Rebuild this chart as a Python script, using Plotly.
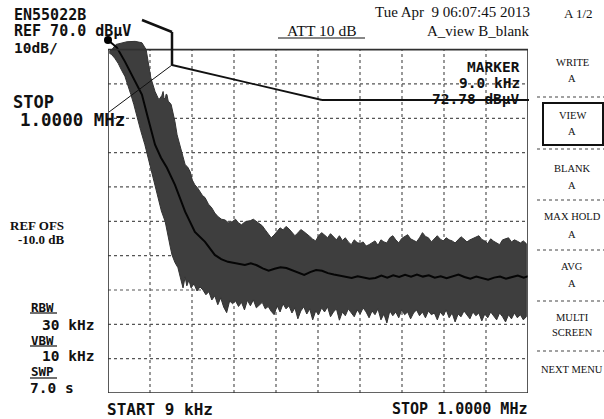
import plotly.graph_objects as go

# ---------------- data (kHz, dBuV) ----------------
upper_freq_khz = [12, 18, 28, 42, 54, 73, 89, 99, 103, 110, 120, 129, 136, 139, 141, 144, 146, 148, 151, 153,
                  158, 162, 167, 172, 176, 181, 186, 191, 197, 203, 208, 214, 220, 226, 232, 238, 246, 254, 261,
                  269, 277, 285, 293, 302, 310, 317, 324, 332,
                  338, 345, 352, 359, 366, 373, 380, 387, 394, 401, 408, 415, 422, 429, 436, 443, 450, 457, 464,
                  471, 478, 485, 492, 499, 506, 513, 520, 527, 534, 541, 548, 555, 562, 569, 576, 583, 590, 597,
                  604, 611, 618, 625, 632, 639, 646, 653, 660, 667, 674, 681, 688, 695, 702, 709, 716, 723, 730,
                  737, 744, 751, 758, 765, 772, 779, 786, 793, 800, 807, 814, 821, 828, 835, 842, 849, 856, 863,
                  870, 877, 884, 891, 898, 905, 912, 919, 926, 933, 940, 947, 954, 961, 968, 975, 982, 989, 996]
upper_level_dbuv = [69.5, 70.0, 71.5, 72.0, 72.3, 72.4, 72.0, 70.0, 66.5, 61.8, 57.8, 55.4, 56.6, 57.8, 56.0, 55.4,
                    57.0, 56.9, 55.0, 54.8, 54.0, 51.9, 49.0, 45.2, 43.5, 40.9, 38.5, 36.5, 35.8, 34.4, 32.0, 30.6,
                    29.8, 28.6, 27.5, 26.9, 25.0, 23.9, 22.4, 21.3, 20.6, 20.4, 19.6, 19.9, 20.6, 19.5, 19.0, 19.8,
                    19.9, 20.2, 20.6, 20.0, 19.5, 18.7, 17.5, 16.5, 15.2, 16.0, 17.2, 18.1, 17.5, 18.5, 17.8, 16.8,
                    15.8, 16.6, 17.6, 17.0, 16.4, 15.6, 14.8, 14.3, 15.8, 16.7, 16.0, 15.2, 16.4, 15.4, 14.6, 15.8,
                    14.4, 15.2, 14.0, 13.2, 14.6, 13.8, 13.5, 14.0, 12.8, 13.2, 13.8, 14.3, 13.0, 14.6, 14.0, 13.7,
                    15.2, 15.8, 14.6, 13.7, 15.0, 15.5, 16.1, 14.9, 14.4, 14.0, 15.2, 16.7, 15.6, 15.2, 14.0, 14.9,
                    15.8, 14.8, 14.3, 15.2, 14.6, 14.3, 13.7, 14.6, 15.5, 14.8, 14.0, 14.6, 15.0, 15.2, 15.8, 14.7,
                    14.3, 13.5, 14.9, 14.2, 13.8, 13.2, 14.6, 15.0, 15.2, 14.0, 14.6, 14.2, 13.7, 14.3, 13.5]

lower_freq_khz = [12, 18, 25, 33, 41, 49, 56, 63, 70, 77, 86, 96, 104, 113, 120, 127, 135, 144, 151, 156, 160,
                  167, 174, 180, 186, 191, 195, 200, 205, 212, 219, 226, 233, 240, 247, 254, 261, 268, 275, 282,
                  289, 296, 303, 310, 317, 324, 331,
                  338, 345, 352, 359, 366, 373, 380, 387, 394, 401, 408, 415, 422, 429, 436, 443, 450, 457, 464,
                  471, 478, 485, 492, 499, 506, 513, 520, 527, 534, 541, 548, 555, 562, 569, 576, 583, 590, 597,
                  604, 611, 618, 625, 632, 639, 646, 653, 660, 667, 674, 681, 688, 695, 702, 709, 716, 723, 730,
                  737, 744, 751, 758, 765, 772, 779, 786, 793, 800, 807, 814, 821, 828, 835, 842, 849, 856, 863,
                  870, 877, 884, 891, 898, 905, 912, 919, 926, 933, 940, 947, 954, 961, 968, 975, 982, 989, 996]
lower_level_dbuv = [69.0, 68.5, 67.5, 66.0, 64.0, 62.2, 59.5, 56.9, 54.0, 51.1, 46.5, 42.3, 38.5, 34.4, 30.5, 26.9,
                    23.0, 19.9, 15.2, 12.5, 10.2, 8.0, 6.5, 3.5, 0.6, 3.8, 1.2, 2.9, 0.6, 1.8, -0.3, 0.9, 0.0,
                    -1.4, -0.5, -2.9, -1.7, -4.3, -2.3, -5.0, -6.6, -3.2, -4.0, -3.2, -4.8, -3.6, -5.8,
                    -3.0, -4.6, -2.9, -5.2, -4.3, -3.6, -5.5, -4.8, -6.2, -7.2, -4.6, -6.4, -4.0, -5.5, -4.6, -6.7,
                    -5.2, -8.4, -6.1, -4.9, -7.0, -5.5, -8.7, -6.1, -7.2, -5.2, -6.4, -4.9, -7.8, -6.4, -5.5, -8.8,
                    -6.4, -7.5, -5.5, -6.7, -7.8, -5.8, -7.0, -5.2, -6.4, -8.1, -6.1, -7.2, -5.5, -8.7, -7.0, -9.6,
                    -6.1, -7.5, -6.4, -8.1, -5.8, -7.2, -6.4, -8.4, -6.7, -5.8, -7.5, -6.4, -8.1, -6.1, -7.2, -6.7,
                    -8.7, -6.4, -7.5, -5.8, -8.1, -6.7, -9.3, -7.0, -7.8, -6.1, -7.2, -8.4, -6.4, -7.5, -6.7, -9.0,
                    -7.0, -8.1, -6.4, -7.5, -8.7, -6.7, -7.8, -9.3, -7.2, -8.4, -6.7, -8.1, -7.2, -8.7, -7.8]

avg_freq_khz = [13.7, 30, 49, 68, 89, 103, 120, 134, 148, 167, 191, 214, 238, 261, 276, 292, 312, 332,
                346, 360, 374, 388, 402, 416, 430, 444, 458, 472, 486, 500, 514, 528, 542, 556, 570, 584, 598,
                612, 626, 640, 654, 668, 682, 696, 710, 724, 738, 752, 766, 780, 794, 808, 822, 836, 850, 864,
                878, 892, 906, 920, 934, 948, 962, 976, 990, 1000]
avg_level_dbuv = [72.3, 70.6, 66.5, 61.8, 56.9, 50.2, 42.3, 38.5, 35.6, 30.6, 22.8, 16.9, 14.0, 10.2, 9.0, 8.2,
                  7.8, 7.3, 7.8, 7.2, 6.3, 5.6, 6.2, 6.6, 6.4, 5.7, 5.0, 4.4, 5.2, 5.8, 5.6, 4.9, 4.5, 4.1, 3.8,
                  3.5, 4.0, 3.6, 3.3, 3.5, 4.2, 3.6, 4.3, 3.8, 4.4, 3.9, 4.5, 3.9, 4.3, 3.6, 4.0, 3.4, 3.9, 4.5,
                  3.8, 3.3, 3.9, 3.4, 3.0, 3.6, 3.9, 3.3, 3.7, 4.2, 3.6, 4.0]

marker_freq_khz = [9.0]
marker_level_dbuv = [72.78]

start_khz, stop_khz = 9, 1000
ref_level_dbuv, db_per_div, n_div = 70, 10, 10
x_grid_khz = [start_khz + (stop_khz - start_khz) * k / n_div for k in range(1, n_div)]
y_grid_dbuv = [ref_level_dbuv - db_per_div * k for k in range(1, n_div)]
bottom_dbuv = ref_level_dbuv - db_per_div * n_div

# ---------------- layout helpers ----------------
W, H = 604, 419
ML, MR, MT, MB = 108, 76, 29, 26
PW, PH = W - ML - MR, H - MT - MB


def px(x, y):
    return (x - ML) / PW, (H - MB - y) / PH


MONO = "DejaVu Sans Mono"
SERIF = "Liberation Serif"
INK = "#111111"

fig = go.Figure()

band_x = upper_freq_khz + lower_freq_khz[::-1]
band_y = upper_level_dbuv + lower_level_dbuv[::-1]
fig.add_trace(go.Scatter(x=band_x, y=band_y, fill="toself", fillcolor="#3e3e3e",
                         line=dict(color="#333333", width=1), mode="lines", hoverinfo="skip"))
fig.add_trace(go.Scatter(x=avg_freq_khz, y=avg_level_dbuv, mode="lines",
                         line=dict(color="#050505", width=2)))
fig.add_trace(go.Scatter(x=marker_freq_khz, y=marker_level_dbuv, mode="markers", cliponaxis=False,
                         marker=dict(color="black", size=8, symbol="circle")))

shapes = []
for gx in x_grid_khz:
    shapes.append(dict(type="line", xref="x", yref="y", x0=gx, x1=gx, y0=bottom_dbuv, y1=ref_level_dbuv,
                       line=dict(color="#555555", width=1.2, dash="dot"), layer="below"))
for gy in y_grid_dbuv:
    shapes.append(dict(type="line", xref="x", yref="y", x0=start_khz, x1=stop_khz, y0=gy, y1=gy,
                       line=dict(color="#555555", width=1.2, dash="dot"), layer="below"))
shapes.append(dict(type="rect", xref="x", yref="y", x0=start_khz, x1=stop_khz, y0=bottom_dbuv,
                   y1=ref_level_dbuv, line=dict(color="#303030", width=1.6), layer="above"))


def pline(pts, width, color=INK, dash=None):
    for (xa, ya), (xb, yb) in zip(pts[:-1], pts[1:]):
        a, b = px(xa, ya), px(xb, yb)
        ln = dict(color=color, width=width)
        if dash:
            ln["dash"] = dash
        shapes.append(dict(type="line", xref="paper", yref="paper", x0=a[0], y0=a[1], x1=b[0], y1=b[1],
                           line=ln, layer="above"))


# marker pointer lines
pline([(142, 20), (172, 32), (172, 65)], 2.5)
pline([(172, 65), (322, 100), (529, 100)], 1.8)
pline([(172, 65), (109, 112)], 1.0)

# underlines
pline([(278, 38), (365, 38)], 1.2)
pline([(30, 313), (57, 313)], 1.2)
pline([(30, 346), (57, 346)], 1.2)
pline([(30, 378), (57, 378)], 1.2)

# softkey separators and VIEW box
for sy in [97, 149, 200, 250, 301, 351]:
    pline([(537, sy), (604, sy)], 1.2, color="#444444", dash="dot")
a, b = px(543, 103), px(603, 145)
shapes.append(dict(type="rect", xref="paper", yref="paper", x0=a[0], y0=b[1], x1=b[0], y1=a[1],
                   line=dict(color=INK, width=2)))

annotations = []


def txt(s, x, y, size, anchor="left", family=MONO, bold=True):
    xp, yp = px(x, y)
    annotations.append(dict(text=(f"<b>{s}</b>" if bold else s), x=xp, y=yp, xref="paper", yref="paper",
                            xanchor=anchor, yanchor="middle", showarrow=False,
                            font=dict(family=family, size=size, color=INK)))


txt("EN55022B", 12, 15, 15)
txt("REF 70.0 dBµV", 12, 31, 15)
txt("10dB/", 12, 48, 14.5)
txt("STOP", 11, 102, 17)
txt("1.0000 MHz", 18, 120, 17.5)
txt("REF OFS", 8, 225, 13, family=SERIF)
txt("-10.0 dB", 16, 240, 13, family=SERIF)
txt("RBW", 29, 307, 12.5)
txt("30 kHz", 96, 325, 14.5, anchor="right")
txt("VBW", 29, 340, 12.5)
txt("10 kHz", 96, 356, 14.5, anchor="right")
txt("SWP", 29, 371, 12.5)
txt("7.0 s", 76, 388, 14.5, anchor="right")
txt("START 9 kHz", 105, 409, 16)
txt("STOP 1.0000 MHz", 529, 409, 15, anchor="right")
txt("ATT 10 dB", 321, 31, 15.5, anchor="center", family=SERIF, bold=False)
txt("Tue Apr  9 06:07:45 2013", 532, 12, 15, anchor="right", family=SERIF, bold=False)
txt("A_view B_blank", 532, 31, 15, anchor="right", family=SERIF, bold=False)
txt("A 1/2", 578, 14, 13, anchor="center", family=SERIF, bold=False)
txt("MARKER", 522, 67, 14.5, anchor="right")
txt("9.0 kHz", 522, 83, 14.5, anchor="right")
txt("72.78 dBµV", 522, 99, 14.5, anchor="right")

menu = [("WRITE", 62), ("A", 79), ("VIEW", 115), ("A", 131), ("BLANK", 168), ("A", 185),
        ("MAX HOLD", 217), ("A", 234), ("AVG", 266), ("A", 283), ("MULTI", 317), ("SCREEN", 332),
        ("NEXT MENU", 369)]
for s, y in menu:
    txt(s, 572, y, 10.5, anchor="center", family=SERIF, bold=False)

fig.update_layout(
    width=W, height=H, autosize=False,
    margin=dict(l=ML, r=MR, t=MT, b=MB, pad=0),
    paper_bgcolor="white", plot_bgcolor="white",
    showlegend=False,
    xaxis=dict(range=[start_khz, stop_khz], showgrid=False, zeroline=False, showticklabels=False,
               ticks="", showline=False),
    yaxis=dict(range=[bottom_dbuv, 76], showgrid=False, zeroline=False, showticklabels=False,
               ticks="", showline=False),
    shapes=shapes, annotations=annotations,
)

fig.write_html("out.html", config={"displayModeBar": False},
               post_script="document.body.style.margin='0';document.body.style.overflow='hidden';")
